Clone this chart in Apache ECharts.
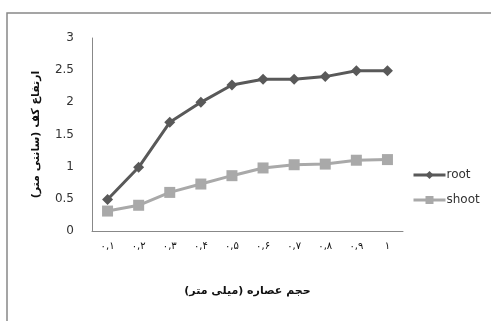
<!DOCTYPE html>
<html>
<head>
<meta charset="utf-8">
<script src="https://cdn.jsdelivr.net/npm/echarts@6/dist/echarts.min.js"></script>
<style>
  html, body { margin: 0; padding: 0; background: #fff; }
  #main { width: 491px; height: 321px; }
</style>
</head>
<body>
<div id="main"></div>
<script>
var xLabels = ['۰,۱', '۰,۲', '۰,۳', '۰,۴', '۰,۵', '۰,۶', '۰,۷', '۰,۸', '۰,۹', '۱'];
var rootData = [0.49, 0.99, 1.69, 2.0, 2.27, 2.36, 2.36, 2.4, 2.49, 2.49];
var shootData = [0.31, 0.4, 0.6, 0.73, 0.86, 0.98, 1.03, 1.04, 1.1, 1.11];

var myChart = echarts.init(document.getElementById('main'));

var option = {
    animation: false,
    backgroundColor: '#fff',
    textStyle: { fontFamily: 'DejaVu Sans' },
    graphic: [{
        type: 'rect',
        shape: { x: 7, y: 13, width: 520, height: 340 },
        style: { fill: 'none', stroke: '#888', lineWidth: 1.5 },
        silent: true
    }],
    grid: { left: 92, top: 38, width: 311, height: 193 },
    legend: {
        orient: 'vertical',
        left: 407,
        top: 164,
        itemGap: 13,
        itemWidth: 32,
        itemHeight: 10,
        lineStyle: { width: 3 },
        textStyle: { fontSize: 12, color: '#333', padding: [0, 0, 0, -4] },
        data: ['root', 'shoot']
    },
    xAxis: {
        type: 'category',
        data: xLabels,
        boundaryGap: true,
        axisLine: { lineStyle: { color: '#888', width: 1 } },
        axisTick: { show: false },
        axisLabel: { color: '#111', fontSize: 10, margin: 10, fontFamily: 'DejaVu Sans' },
        name: 'حجم عصاره (میلی متر)',
        nameLocation: 'middle',
        nameGap: 55,
        nameTextStyle: { fontSize: 11, fontWeight: 'bold', color: '#111' }
    },
    yAxis: {
        type: 'value',
        min: 0,
        max: 3,
        interval: 0.5,
        axisLine: { show: true, lineStyle: { color: '#888', width: 1 } },
        axisTick: { show: false },
        splitLine: { show: false },
        axisLabel: { color: '#333', fontSize: 12, margin: 18 },
        name: 'ارتفاع کف (سانتی متر)',
        nameLocation: 'middle',
        nameGap: 50,
        nameTextStyle: { fontSize: 11, fontWeight: 'bold', color: '#111' }
    },
    series: [{
        name: 'root',
        type: 'line',
        data: rootData,
        symbol: 'diamond',
        symbolSize: 11,
        lineStyle: { color: '#595959', width: 3 },
        itemStyle: { color: '#595959' }
    }, {
        name: 'shoot',
        type: 'line',
        data: shootData,
        symbol: 'rect',
        symbolSize: 11,
        lineStyle: { color: '#a9a9a9', width: 3 },
        itemStyle: { color: '#a9a9a9' }
    }]
};

myChart.setOption(option);
</script>
</body>
</html>
